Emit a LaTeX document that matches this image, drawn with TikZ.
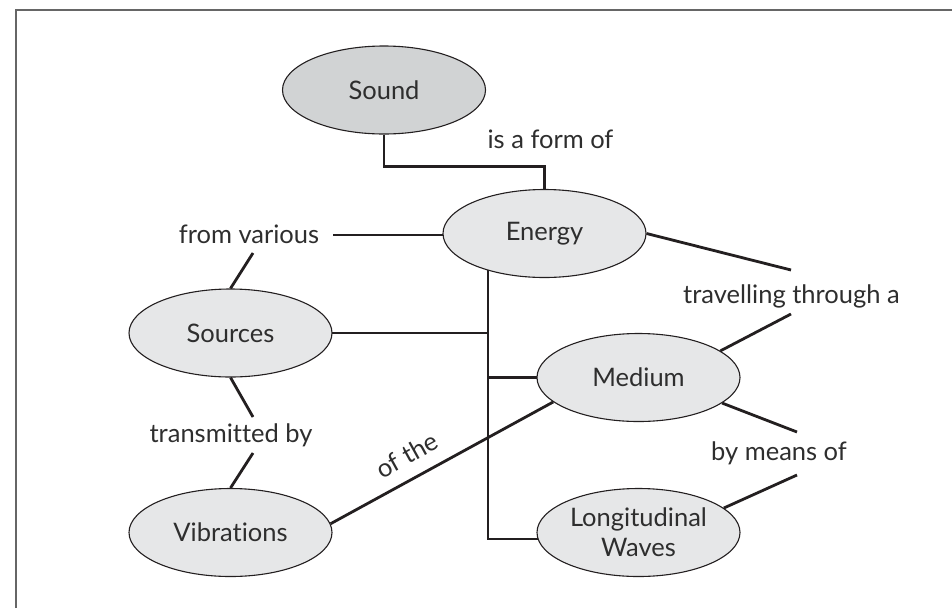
\documentclass[tikz,border=0pt]{standalone}
\usepackage{fontspec}
\setmainfont{Lato}[Ligatures={NoCommon}]
\usetikzlibrary{shapes.geometric,backgrounds}
\definecolor{txt}{HTML}{2E2E2E}
\definecolor{lnc}{HTML}{231F20}
\definecolor{fillA}{HTML}{D1D3D4}
\definecolor{fillB}{HTML}{E6E7E8}
\definecolor{frame}{HTML}{666666}
\tikzset{
  concept/.style={ellipse, draw=lnc, line width=1.1pt, fill=fillB, minimum width=203pt, minimum height=88pt, inner sep=0pt, text=txt, align=center, font=\fontsize{25.5}{30}\selectfont},
  link/.style={text=txt, font=\fontsize{25.5}{30}\selectfont, inner sep=0pt},
  conn/.style={draw=lnc, line width=2.8pt}
}
\begin{document}
\begin{tikzpicture}[x=1pt,y=-1pt]
\useasboundingbox (0,0) rectangle (952,608);
\draw[frame, line width=2pt] (15.5,608) -- (15.5,9.5) -- (952,9.5);

\node[concept, fill=fillA] (sound) at (384,90) {Sound};
\node[concept] (energy) at (544.5,233.5) {Energy};
\node[concept] (sources) at (230.5,333) {Sources};
\node[concept] (medium) at (638.5,377.5) {Medium};
\node[concept] (vib) at (230.5,532.5) {Vibrations};
\node[concept] (long) at (638.5,532.5) {Longitudinal\\Waves};

\node[link, anchor=base] (isform) at (550.5,148) {is a form of};
\node[link, anchor=base] (fromvar) at (249,243) {from various};
\node[link, anchor=base] (transby) at (231,442) {transmitted by};
\node[link, anchor=base] (travel) at (791.5,303) {travelling through a};
\node[link, anchor=base] (bymeans) at (779,460) {by means of};
\node[link, rotate=29] (ofthe) at (407,455) {of the};

\coordinate (fv1) at (333,235);
\coordinate (fv2) at (253,253);
\coordinate (tb1) at (253,417);
\coordinate (tb2) at (253,453);
\coordinate (tr1) at (791,270);
\coordinate (tr2) at (791,314);
\coordinate (bm1) at (797,432);
\coordinate (bm2) at (797,475);
\coordinate (vtop) at (488,265);
\coordinate (vbot) at (488,539);
\coordinate (jsrc) at (488,333);
\coordinate (jmed) at (488,377.5);

\begin{scope}[on background layer]
\draw[conn] (sound.south) -- ++(0,32) -| (energy.north);
\draw[conn] (fv1) -- (energy.center |- fv1);
\draw[conn] (fv2) -- (sources.north);
\draw[conn] (sources.center) -- (jsrc);
\draw[conn] (vtop) -- (vbot) -- (long.center |- vbot);
\draw[conn] (jmed) -- (medium.center);
\draw[conn] (energy.east) -- (tr1);
\draw[conn] (tr2) -- (medium.18);
\draw[conn] (medium.-17) -- (bm1);
\draw[conn] (bm2) -- (long.16);
\draw[conn] (sources.south) -- (tb1);
\draw[conn] (tb2) -- (vib.north);
\draw[conn] (vib.5) -- (medium.196);
\end{scope}
\end{tikzpicture}
\end{document}
